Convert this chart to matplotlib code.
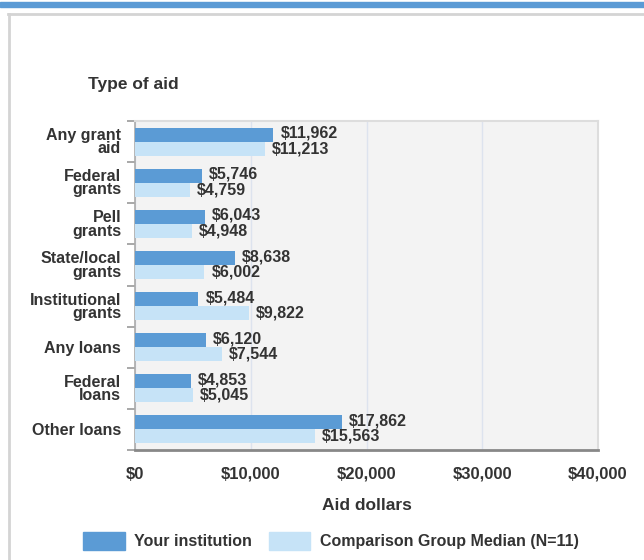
import matplotlib.pyplot as plt
import numpy as np
from matplotlib.lines import Line2D
from matplotlib.patches import Patch, Rectangle

plt.rcParams['font.family'] = ['Liberation Sans', 'DejaVu Sans']

categories = ['Any grant\naid', 'Federal\ngrants', 'Pell\ngrants', 'State/local\ngrants',
              'Institutional\ngrants', 'Any loans', 'Federal\nloans', 'Other loans']
your_inst = [11962, 5746, 6043, 8638, 5484, 6120, 4853, 17862]
comparison = [11213, 4759, 4948, 6002, 9822, 7544, 5045, 15563]
xticks = [0, 10000, 20000, 30000, 40000]
xtick_labels = ['$0', '$10,000', '$20,000', '$30,000', '$40,000']

dark = '#5b9bd5'
light = '#c6e3f7'
txt = '#333333'

fig = plt.figure(figsize=(6.44, 5.6), dpi=100)
W, H = 644, 560

# page decorations: blue band on top, grey panel border
fig.patches.append(Rectangle((0, 1 - 7 / H), 1, 5 / H, transform=fig.transFigure,
                             color=dark, zorder=0))
fig.lines.append(Line2D([8 / W, 1], [1 - 14 / H, 1 - 14 / H], transform=fig.transFigure,
                        color='#d4d4d4', lw=2))
fig.lines.append(Line2D([9 / W, 9 / W], [1 - 14 / H, 0], transform=fig.transFigure,
                        color='#d4d4d4', lw=2))

ax = fig.add_axes([135 / W, 1 - 450 / H, 463 / W, 329 / H])
ax.set_facecolor('#f3f3f3')

y = np.arange(len(categories))
h = 0.34
ax.barh(y - h / 2, your_inst, height=h, color=dark, zorder=3)
ax.barh(y + h / 2, comparison, height=h, color=light, zorder=3)

for i in range(len(categories)):
    ax.annotate(f'${your_inst[i]:,}', (your_inst[i], y[i] - h / 2), xytext=(5, 1),
                textcoords='offset points', va='center', ha='left',
                fontsize=11.5, fontweight='bold', color=txt, zorder=5)
    ax.annotate(f'${comparison[i]:,}', (comparison[i], y[i] + h / 2), xytext=(5, 0),
                textcoords='offset points', va='center', ha='left',
                fontsize=11.5, fontweight='bold', color=txt, zorder=5)

ax.set_xlim(0, 40000)
ax.set_ylim(len(categories) - 0.5, -0.5)
ax.set_xticks(xticks)
ax.set_xticklabels(xtick_labels, fontsize=12, fontweight='bold', color=txt)
ax.set_yticks(y)
ax.set_yticklabels(categories, fontsize=11.5, fontweight='bold', color=txt, linespacing=0.85)
ax.set_yticks(np.arange(len(categories) + 1) - 0.5, minor=True)
ax.tick_params(axis='y', which='major', length=0, pad=10)
ax.tick_params(axis='y', which='minor', length=6, color='#999999', width=1.2)
ax.tick_params(axis='x', length=0, pad=12)

ax.grid(axis='x', color='#dde3ee', lw=1, zorder=1)
ax.set_axisbelow(True)
for s in ['top', 'right']:
    ax.spines[s].set_color('#dddddd')
    ax.spines[s].set_linewidth(1.5)
ax.spines['left'].set_color('#aaaaaa')
ax.spines['left'].set_linewidth(1.2)
ax.spines['bottom'].set_color('#888888')
ax.spines['bottom'].set_linewidth(2)

ax.set_xlabel('Aid dollars', fontsize=12.5, fontweight='bold', color=txt, labelpad=12)
fig.text(88 / W, 1 - 84 / H, 'Type of aid', fontsize=12.5, fontweight='bold', color=txt,
         va='center', ha='left')

handles = [Patch(facecolor=dark, edgecolor=dark), Patch(facecolor=light, edgecolor=light)]
fig.legend(handles, ['Your institution', 'Comparison Group Median (N=11)'],
           loc='center', bbox_to_anchor=(331 / W, 1 - 541 / H), ncol=2, frameon=False,
           handlelength=2.6, handleheight=1.4, handletextpad=0.6, columnspacing=1.05,
           prop={'size': 11.5, 'weight': 'bold'}, labelcolor=txt)

fig.savefig('out.png', dpi=100)
